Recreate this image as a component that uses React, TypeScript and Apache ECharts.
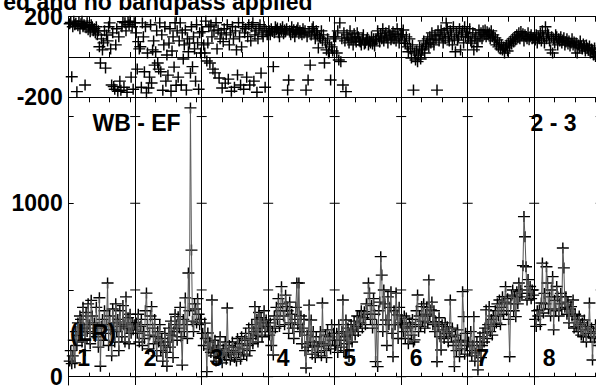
import React, { useEffect, useRef } from "react";
import * as echarts from "echarts";

// ---- texts ----
const titleText = "ed and no bandpass applied";
const baselineLabel = "WB - EF";
const polLabel = "(LR)";
const corrLabel = "2 - 3";
const ifLabels = ["1", "2", "3", "4", "5", "6", "7", "8"];

// ---- axes ----
const ifSpan = 65; // channel units per IF panel (64 channels)
const channelTicks = [20, 40, 60];
const phaseLabels = [-200, 200];
const ampLabels = [0, 1000];
const ampTicks = [0, 500, 1000, 1500];
const phaseMin = -200;
const phaseMax = 200;
const ampMin = -48;
const ampMax = 1611;

// ---- amplitude per IF (64 channels each) ----
const amp1 = [90, 150, 75, 120, 210, 80, 260, 180, 310, 240, 350, 330, 200, 400, 280, 150, 370, 260, 420, 300, 190, 440, 350, 250, 310, 230, 400, 280, 170, 455, 60, 290, 330, 210, 380, 250, 300, 540, 180, 350, 270, 120, 390, 310, 200, 420, 260, 330, 150, 380, 290, 230, 410, 300, 200, 460, 280, 340, 190, 360, 250, 310, 270, 300];
const amp2 = [310, 250, 360, 200, 290, 330, 180, 260, 220, 380, 482, 300, 160, 240, 350, 404, 280, 190, 330, 230, 120, 260, 200, 300, 150, 220, 90, 180, 250, 140, 60, 200, 280, 170, 320, 240, 110, 260, 360, 300, 210, 346, 280, 400, 230, 67, 330, 260, 454, 300, 220, 598, 380, 1550, 730, 320, 260, 420, 390, 310, 450, 360, 300, 330];
const amp3 = [250, 180, 309, 220, 29, 252, 160, 200, 140, 442, 170, 120, 210, 90, 150, 180, 110, 230, 130, 80, 160, 120, 200, 100, 396, 140, 180, 96, 130, 200, 150, 110, 170, 90, 220, 140, 190, 100, 230, 160, 130, 210, 250, 120, 180, 280, 150, 220, 300, 190, 260, 404, 240, 330, 200, 370, 280, 340, 230, 310, 380, 260, 327, 290];
const amp4 = [240, 310, 180, 260, 125, 350, 280, 400, 330, 450, 290, 380, 519, 420, 350, 300, 470, 404, 380, 250, 430, 310, 360, 280, 220, 330, 400, 540, 300, 540, 260, 350, 190, 280, 330, 150, 50, 240, 170, 413, 200, 327, 130, 260, 180, 110, 230, 173, 140, 200, 260, 120, 425, 190, 150, 240, 110, 270, 180, 230, 160, 300, 210, 250];
const amp5 = [180, 250, 140, 300, 210, 170, 260, 442, 150, 230, 327, 190, 280, 115, 240, 300, 200, 270, 320, 240, 290, 350, 260, 346, 310, 380, 280, 340, 375, 300, 420, 360, 540, 482, 330, 410, 280, 450, 360, 87, 300, 58, 380, 430, 692, 586, 260, 500, 420, 327, 180, 460, 300, 400, 490, 250, 115, 380, 300, 482, 356, 220, 400, 310];
const amp6 = [300, 260, 350, 220, 338, 280, 190, 310, 288, 240, 330, 200, 212, 300, 380, 471, 260, 350, 290, 404, 320, 420, 280, 360, 400, 310, 558, 350, 385, 430, 300, 380, 260, 317, 86, 290, 340, 230, 154, 300, 270, 220, 310, 250, 288, 200, 260, 442, 230, 280, 180, 58, 240, 150, 270, 200, 115, 210, 160, 490, 346, 130, 250, 180];
const amp7 = [200, 150, 260, 120, 180, 346, 90, 137, 200, 39, 150, 230, 110, 180, 252, 200, 280, 385, 220, 300, 404, 260, 330, 240, 350, 290, 380, 309, 420, 350, 442, 300, 400, 461, 360, 430, 519, 380, 450, 330, 115, 420, 470, 500, 380, 460, 346, 490, 420, 540, 460, 500, 480, 640, 923, 807, 634, 442, 560, 480, 520, 450, 500, 470];
const amp8 = [330, 290, 380, 350, 385, 300, 425, 655, 367, 480, 420, 634, 540, 390, 460, 350, 500, 577, 270, 440, 380, 520, 461, 350, 420, 480, 390, 742, 627, 400, 461, 360, 430, 310, 390, 404, 350, 442, 280, 360, 288, 330, 260, 350, 300, 240, 310, 230, 327, 270, 200, 290, 250, 425, 230, 280, 96, 260, 223, 300, 200, 250, 180, 220];

// ---- phase per IF (degrees, 64 channels each) ----
const phase1 = [165, 172, -98, 150, 178, 160, 168, -172, 155, 175, 140, 165, 178, 150, 160, -139, 145, 170, 135, 155, 125, 160, 150, 130, 140, 120, 150, 110, 130, 51, -30, 90, 35, 70, 130, -55, 109, 80, 150, 169, 40, -139, 120, -147, -160, 60, 140, -170, 100, -120, -165, 150, 175, -150, 170, 130, -175, 175, 160, 178, -100, 150, -160, 170];
const phase2 = [120, -60, 76, 40, 51, -150, 169, 100, -73, 150, -178, 20, -154, -100, 160, -129, 35, 80, -40, 26, 130, -30, -60, 169, -73, 110, -165, 60, 150, -120, 10, -90, 69, 140, -170, 30, 100, -50, 170, -140, 130, -100, 80, 169, -139, 120, -10, 60, 134, -164, 90, 26, 69, -80, 150, -48, 100, 40, -120, 160, 70, -160, 120, 20];
const phase3 = [126, 60, 20, 178, -20, 69, 150, -30, 159, 100, -60, 130, -79, 170, 40, 134, -104, 90, 119, -154, 76, 140, -130, 110, 160, -110, 60, 120, -170, 150, 90, -150, 130, 35, -89, 170, 100, -139, 50, 150, -160, 120, 140, -100, 101, 160, -139, 80, 150, 170, -120, 110, 130, -175, 90, 140, 160, -80, 120, 101, 150, -150, 130, 110];
const phase4 = [130, 110, 140, 126, -48, 120, 150, 135, 144, 120, 100, 140, 130, 150, 115, 134, 125, 140, -164, -114, 130, 110, 150, 120, 135, 100, 125, 134, 145, 115, 130, 120, 110, 140, 119, 130, -164, 100, -114, 125, -40, 109, 140, 150, 120, 90, 130, 110, 45, 100, 94, 130, 80, 110, -30, 70, 35, 90, 20, 60, -114, 50, 30, 100];
const phase5 = [100, 20, 130, -15, 169, -23, 90, -139, 120, 80, -172, 110, 95, 70, 130, 85, 100, 60, 115, 90, 75, 120, 100, 80, 75, 60, 90, 110, 65, 70, 85, 95, 60, 80, 70, 100, 65, 90, 55, 85, 85, 130, 100, 75, 115, 90, 140, 80, 105, 120, 95, 70, 130, 110, 85, 100, 125, 90, 115, 80, 140, 100, 70, 110];
const phase6 = [110, 134, 80, 68, 100, 50, 26, 90, 40, -5, 60, -164, 20, -15, 30, -23, 10, 50, -10, 35, 40, 80, 20, 60, 69, 90, 50, 100, 70, 120, 85, 60, 109, 90, -164, 130, 80, 110, 134, 100, 70, 120, 90, 169, 140, 100, 80, 130, 110, 60, 150, 90, 26, 120, 84, 100, 140, 35, 110, 130, 70, 150, 100, 120];
const phase7 = [100, 140, 80, 69, 120, 35, 90, 110, 51, 80, 134, 100, 120, 90, 130, 110, 134, 100, 125, 110, 119, 90, 130, 100, 110, 80, 95, 60, 85, 50, 70, 40, 60, 35, 50, 20, 45, 60, 30, 70, 55, 80, 65, 90, 75, 100, 85, 110, 95, 120, 90, 126, 105, 115, 80, 110, 100, 90, 120, 85, 101, 110, 90, 95];
const phase8 = [84, 110, 70, 100, 90, 119, 80, 130, 100, 69, 150, 90, 120, 110, 80, 35, 100, 20, 90, 70, 110, 101, 60, 90, 80, 100, 70, 84, 95, 60, 75, 90, 65, 80, 55, 69, 90, 60, 75, 50, 70, 20, 60, 45, 80, 55, 40, 65, 51, 30, 60, 45, 35, 55, 20, 40, 35, 10, 45, 2, 25, 15, -10, 5];

const ampByIF = [amp1, amp2, amp3, amp4, amp5, amp6, amp7, amp8];
const phaseByIF = [phase1, phase2, phase3, phase4, phase5, phase6, phase7, phase8];

const FONT = '"Liberation Sans", Arial, Helvetica, sans-serif';
const CROSS = "path://M0 5H10M5 0V10";

export default function App() {
  const ref = useRef<HTMLDivElement>(null);

  useEffect(() => {
    if (!ref.current) return;
    const chart = echarts.init(ref.current, undefined, { renderer: "svg" });

    const gLeft = 68.7;
    const gWidth = 532;
    const phaseTop = 16.7;
    const phaseH = 80.6;
    const ampTop = 97.3;
    const ampH = 287.7;
    const nIF = ampByIF.length;
    const segPx = gWidth / nIF;

    const xOf = (k: number, c: number) => k * ifSpan + c + 1;
    const tickValues: number[] = [];
    const sepValues: number[] = [];
    for (let k = 0; k < nIF; k++) {
      channelTicks.forEach((t) => tickValues.push(k * ifSpan + t));
      sepValues.push((k + 1) * ifSpan);
    }

    const phaseData: number[][] = [];
    const ampData: number[][] = [];
    phaseByIF.forEach((arr, k) => arr.forEach((v, c) => phaseData.push([xOf(k, c), v])));
    ampByIF.forEach((arr, k) => arr.forEach((v, c) => ampData.push([xOf(k, c), v])));

    const sepTickData: number[][] = [];
    sepValues.forEach((s) => ampTicks.forEach((v) => sepTickData.push([s, v])));

    const xAxisBase = (gridIndex: number, position: "top" | "bottom", len: number) => ({
      type: "value",
      gridIndex,
      position,
      min: 0,
      max: nIF * ifSpan,
      axisLine: { show: true, lineStyle: { color: "#000", width: 1 } },
      axisTick: { show: true, inside: true, length: len, customValues: tickValues, lineStyle: { color: "#000", width: 1 } },
      axisLabel: { show: false },
      splitLine: { show: false },
    });

    const labelStyle = {
      fontFamily: FONT,
      fontWeight: "bold" as const,
      fontSize: 23,
      color: "#000",
      margin: 6,
      formatter: (v: number) => String(v),
    };

    const sepMarkLine = (withZero: boolean) => ({
      silent: true,
      symbol: ["none", "none"],
      label: { show: false },
      lineStyle: { color: "#000", width: 1, type: "solid" },
      data: [
        ...sepValues.map((s) => ({ xAxis: s })),
        ...(withZero ? [{ yAxis: 0 }] : []),
      ],
    });

    const lineSeries = ampByIF.map((arr, k) => ({
      type: "line",
      xAxisIndex: 2,
      yAxisIndex: 1,
      data: arr.map((v, c) => [xOf(k, c), v]),
      showSymbol: false,
      symbol: "none",
      lineStyle: { color: "#555", width: 1 },
      silent: true,
    }));

    const textEls: any[] = [];
    const txt = (x: number, y: number, text: string, align: string) => ({
      type: "text",
      x,
      y,
      silent: true,
      z: 100,
      style: {
        text,
        font: `bold 23px ${FONT}`,
        fill: "#000",
        textAlign: align,
        textVerticalAlign: "middle",
      },
    });
    textEls.push(txt(312.5, 1.8, titleText, "right"));
    textEls.push(txt(92.5, 123.3, baselineLabel, "left"));
    textEls.push(txt(530.5, 123.3, corrLabel, "left"));
    textEls.push(txt(70, 333.3, polLabel, "left"));
    ifLabels.forEach((l, k) => textEls.push(txt(gLeft + segPx * k + 8.5, 357.5, l, "left")));

    const crossStyle = { color: "none", borderColor: "#000", borderWidth: 1.4, opacity: 1 };

    chart.setOption({
      animation: false,
      backgroundColor: "#fff",
      grid: [
        { left: gLeft, top: phaseTop, width: gWidth, height: phaseH, outerBoundsMode: "none" },
        { left: gLeft, top: ampTop, width: gWidth, height: ampH, outerBoundsMode: "none" },
      ],
      xAxis: [
        xAxisBase(0, "bottom", 5),
        xAxisBase(0, "top", 5),
        xAxisBase(1, "bottom", 4),
        xAxisBase(1, "top", 5),
      ],
      yAxis: [
        {
          type: "value",
          gridIndex: 0,
          min: phaseMin,
          max: phaseMax,
          axisLine: { show: true, lineStyle: { color: "#000", width: 1 } },
          axisTick: { show: false },
          axisLabel: { ...labelStyle, customValues: phaseLabels },
          splitLine: { show: false },
        },
        {
          type: "value",
          gridIndex: 1,
          min: ampMin,
          max: ampMax,
          axisLine: { show: true, lineStyle: { color: "#000", width: 1 } },
          axisTick: { show: true, inside: true, length: 5, customValues: ampTicks, lineStyle: { color: "#000", width: 1 } },
          axisLabel: { ...labelStyle, customValues: ampLabels },
          splitLine: { show: false },
        },
      ],
      series: [
        {
          type: "scatter",
          xAxisIndex: 0,
          yAxisIndex: 0,
          data: phaseData,
          symbol: CROSS,
          symbolSize: [12, 11],
          itemStyle: crossStyle,
          markLine: sepMarkLine(true),
          silent: true,
        },
        ...lineSeries,
        {
          type: "scatter",
          xAxisIndex: 2,
          yAxisIndex: 1,
          data: ampData,
          symbol: CROSS,
          symbolSize: [12, 11],
          itemStyle: crossStyle,
          markLine: sepMarkLine(false),
          silent: true,
        },
        {
          type: "custom",
          xAxisIndex: 2,
          yAxisIndex: 1,
          data: sepTickData,
          silent: true,
          renderItem: (_p: any, api: any) => {
            const pt = api.coord([api.value(0), api.value(1)]);
            return {
              type: "line",
              shape: { x1: pt[0] - 5, y1: pt[1], x2: pt[0] + 5, y2: pt[1] },
              style: { stroke: "#000", lineWidth: 1 },
            };
          },
        },
      ],
      graphic: textEls,
    });

    return () => chart.dispose();
  }, []);

  return (
    <div
      ref={ref}
      style={{ position: "absolute", left: 0, top: 0, width: 596, height: 389, background: "#fff" }}
    />
  );
}
